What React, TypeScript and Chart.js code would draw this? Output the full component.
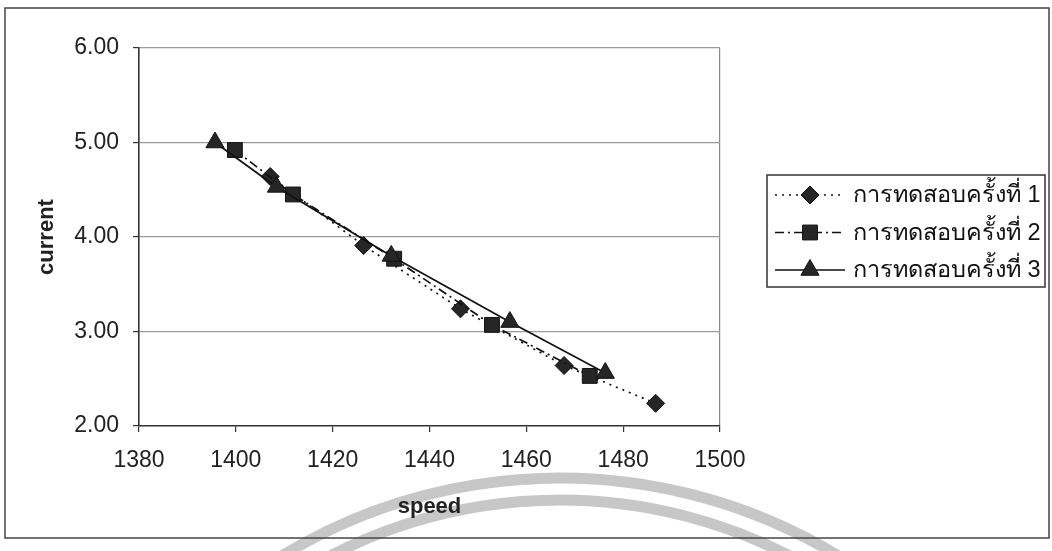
import React, { useEffect, useRef } from "react";
import { Chart, registerables } from "chart.js";
import { drawPoint } from "chart.js/helpers";

Chart.register(...registerables);

const xTicks = [1380, 1400, 1420, 1440, 1460, 1480, 1500];
const yTicks = [2, 3, 4, 5, 6];
const xTitle = "speed";
const yTitle = "current";
const seriesNames = ["การทดสอบครั้งที่ 1", "การทดสอบครั้งที่ 2", "การทดสอบครั้งที่ 3"];

const speed1 = [1407.1, 1426.4, 1446.4, 1467.8, 1486.7];
const current1 = [4.64, 3.91, 3.24, 2.64, 2.24];
const speed2 = [1399.8, 1411.8, 1432.7, 1452.9, 1473.1];
const current2 = [4.92, 4.45, 3.77, 3.07, 2.53];
const speed3 = [1395.7, 1408.4, 1432.1, 1456.6, 1476.3];
const current3 = [5.0, 4.53, 3.8, 3.1, 2.56];

const FONT = "'Liberation Sans', Arial, 'Noto Sans', sans-serif";

const toPoints = (xs: number[], ys: number[]) => xs.map((x, i) => ({ x, y: ys[i] }));

const backgroundPlugin = {
  id: "bgFrame",
  beforeDraw(chart: any) {
    const ctx = chart.ctx;
    ctx.save();
    ctx.fillStyle = "#ffffff";
    ctx.fillRect(0, 0, chart.width, chart.height);
    // faint watermark arcs from the scan
    ctx.strokeStyle = "rgba(175,175,175,0.7)";
    ctx.lineWidth = 11;
    ctx.beginPath();
    ctx.arc(560, 1014, 536, Math.PI * 1.2, Math.PI * 1.8);
    ctx.stroke();
    ctx.beginPath();
    ctx.arc(560, 1000, 500, Math.PI * 1.2, Math.PI * 1.8);
    ctx.stroke();
    ctx.restore();
  },
  afterDraw(chart: any) {
    const ctx = chart.ctx;
    ctx.save();
    ctx.strokeStyle = "#444";
    ctx.lineWidth = 1.5;
    ctx.strokeRect(5, 8, 1044, 530);
    ctx.restore();
  },
};

const legendPlugin = {
  id: "lineLegend",
  afterDraw(chart: any) {
    const ctx = chart.ctx;
    const ca = chart.chartArea;
    const left = ca.right + 47;
    const top = 175;
    const w = 278;
    const h = 112;
    ctx.save();
    ctx.strokeStyle = "#333";
    ctx.lineWidth = 1.5;
    ctx.strokeRect(left, top, w, h);
    chart.data.datasets.forEach((ds: any, i: number) => {
      const y = top + 20 + i * 37.5;
      const x0 = left + 8;
      const x1 = left + 78;
      ctx.setLineDash(ds.borderDash || []);
      ctx.strokeStyle = ds.borderColor;
      ctx.lineWidth = ds.borderWidth;
      ctx.beginPath();
      ctx.moveTo(x0, y);
      ctx.lineTo(x1, y);
      ctx.stroke();
      ctx.setLineDash([]);
      ctx.fillStyle = ds.pointBackgroundColor;
      ctx.strokeStyle = ds.pointBorderColor;
      ctx.lineWidth = 1;
      drawPoint(ctx, { pointStyle: ds.pointStyle, radius: ds.pointRadius, borderWidth: 1, rotation: 0 } as any, (x0 + x1) / 2, y);
      ctx.fillStyle = "#111";
      ctx.font = `23.5px ${FONT}`;
      ctx.textBaseline = "middle";
      ctx.textAlign = "left";
      ctx.fillText(ds.label, left + 86, y + 1);
    });
    ctx.restore();
  },
};

export default function App() {
  const ref = useRef<HTMLCanvasElement | null>(null);
  useEffect(() => {
    document.body.style.margin = "0";
    if (!ref.current) return;
    const markerFill = "#262626";
    const chart = new Chart(ref.current, {
      type: "line",
      data: {
        datasets: [
          {
            label: seriesNames[0],
            data: toPoints(speed1, current1),
            borderColor: "#111",
            borderWidth: 1.7,
            borderDash: [2, 5],
            pointStyle: "rectRot",
            pointRadius: 9,
            pointBackgroundColor: markerFill,
            pointBorderColor: "#111",
            pointBorderWidth: 1,
            tension: 0,
            order: 3,
          },
          {
            label: seriesNames[1],
            data: toPoints(speed2, current2),
            borderColor: "#111",
            borderWidth: 1.7,
            borderDash: [9, 4, 2, 4],
            pointStyle: "rect",
            pointRadius: 10.5,
            pointBackgroundColor: markerFill,
            pointBorderColor: "#111",
            pointBorderWidth: 1,
            tension: 0,
            order: 2,
          },
          {
            label: seriesNames[2],
            data: toPoints(speed3, current3),
            borderColor: "#111",
            borderWidth: 1.7,
            borderDash: [],
            pointStyle: "triangle",
            pointRadius: 10.5,
            pointBackgroundColor: markerFill,
            pointBorderColor: "#111",
            pointBorderWidth: 1,
            tension: 0,
            order: 1,
          },
        ] as any,
      },
      options: {
        animation: false,
        responsive: false,
        devicePixelRatio: 1,
        layout: { padding: { left: 0, top: 48, right: 332, bottom: 0 } },
        plugins: {
          legend: { display: false },
          tooltip: { enabled: false },
        },
        scales: {
          x: {
            type: "linear",
            min: xTicks[0],
            max: xTicks[xTicks.length - 1],
            afterBuildTicks: (s: any) => {
              s.ticks = xTicks.map((v) => ({ value: v }));
            },
            afterFit: (s: any) => {
              s.height = 125;
            },
            ticks: {
              font: { family: FONT, size: 23 },
              color: "#222",
              padding: 15,
              maxRotation: 0,
              callback: (v: any) => String(v),
            },
            grid: {
              color: (c: any) => (c.tick && c.tick.value === 1500 ? "#8a8a8a" : "rgba(0,0,0,0)"),
              tickColor: "#333",
              tickLength: 6,
              lineWidth: 1.2,
            },
            border: { color: "#333", width: 1.6 },
            title: {
              display: true,
              text: xTitle,
              font: { family: FONT, size: 22, weight: "bold" },
              color: "#222",
              padding: { top: 0, bottom: 31 },
            },
          },
          y: {
            type: "linear",
            min: yTicks[0],
            max: yTicks[yTicks.length - 1],
            afterBuildTicks: (s: any) => {
              s.ticks = yTicks.map((v) => ({ value: v }));
            },
            afterFit: (s: any) => {
              s.width = 139;
            },
            ticks: {
              font: { family: FONT, size: 23 },
              color: "#222",
              padding: 14,
              callback: (v: any) => Number(v).toFixed(2),
            },
            grid: {
              color: (c: any) => (c.tick && c.tick.value === 2 ? "rgba(0,0,0,0)" : "#9a9a9a"),
              tickColor: "#333",
              tickLength: 6,
              lineWidth: 1.2,
            },
            border: { color: "#333", width: 1.6 },
            title: {
              display: true,
              text: yTitle,
              font: { family: FONT, size: 22, weight: "bold" },
              color: "#222",
              padding: { top: 34, bottom: 0 },
            },
          },
        },
      } as any,
      plugins: [backgroundPlugin, legendPlugin],
    });
    return () => chart.destroy();
  }, []);
  return (
    <div style={{ width: 1052, height: 551 }}>
      <canvas ref={ref} width={1052} height={551} />
    </div>
  );
}
